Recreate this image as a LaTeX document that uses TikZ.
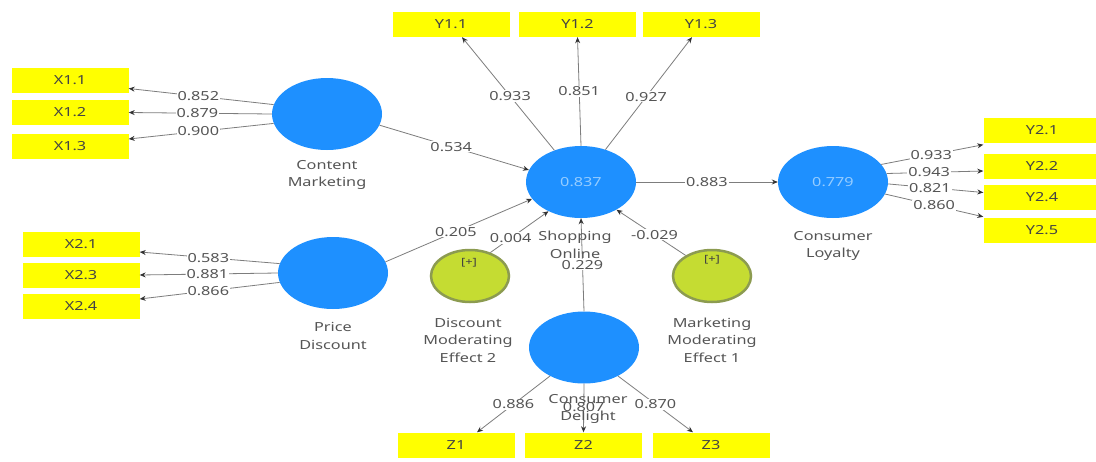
\documentclass[tikz,border=0pt]{standalone}
\usepackage{fontspec}
\setmainfont[FakeStretch=1.3]{Noto Sans}
\usetikzlibrary{shapes.geometric,arrows.meta,calc}
\definecolor{lvblue}{RGB}{30,144,255}
\definecolor{lvtext}{RGB}{150,205,255}
\definecolor{modgreen}{RGB}{197,220,50}
\definecolor{modborder}{RGB}{140,155,80}
\definecolor{txt}{RGB}{85,85,85}
\definecolor{ln}{RGB}{125,125,125}
\definecolor{yel}{RGB}{255,255,0}
\begin{document}
\begin{tikzpicture}[x=1pt,y=-1pt,
  font=\fontsize{12.5}{17.5}\selectfont, text=txt,
  lv/.style={ellipse, fill=lvblue, minimum width=110pt, minimum height=72pt, inner sep=0pt, text=lvtext},
  modv/.style={ellipse, fill=modgreen, draw=modborder, line width=2.5pt, minimum width=78pt, minimum height=52pt, inner sep=0pt},
  ind/.style={rectangle, fill=yel, minimum width=117pt, minimum height=25pt, inner sep=0pt, text=txt!80!black},
  lbl/.style={align=center, inner sep=0pt},
  conn/.style={draw=ln, line width=0.8pt, -{Stealth[length=6pt,width=5pt,color=black!80]}},
  val/.style={fill=white, inner sep=1pt},
]
\useasboundingbox (0,0) rectangle (1096,461);
\clip (0,0) rectangle (1096,461);
\fill[white] (0,0) rectangle (1096,461);

% latent variables
\node[lv] (cm) at (327,114) {};
\node[lv] (pd) at (333,273) {};
\node[lv] (so) at (581,182) {0.837};
\node[lv] (cl) at (833,182) {0.779};
\node[lv] (cd) at (584,347.5) {};
\node[modv] (dme) at (470,276) {};
\node[modv] (mme) at (712,276) {};

% indicators
\node[ind] (x11) at (70,80.5) {X1.1};
\node[ind] (x12) at (70,112.5) {X1.2};
\node[ind] (x13) at (70,146.5) {X1.3};
\node[ind] (x21) at (81,244) {X2.1};
\node[ind] (x23) at (81,275) {X2.3};
\node[ind] (x24) at (81,306.5) {X2.4};
\node[ind] (y11) at (451,24.5) {Y1.1};
\node[ind] (y12) at (577.5,24.5) {Y1.2};
\node[ind] (y13) at (701,24.5) {Y1.3};
\node[ind] (y21) at (1042,130.5) {Y2.1};
\node[ind] (y22) at (1042,166) {Y2.2};
\node[ind] (y24) at (1042,197.5) {Y2.4};
\node[ind] (y25) at (1042,230.5) {Y2.5};
\node[ind] (z1) at (456,445) {Z1};
\node[ind] (z2) at (583.5,445) {Z2};
\node[ind] (z3) at (711,445) {Z3};

% outer loadings
\draw[conn] (cm.170) -- node[val,pos=0.52] {0.852} ($(x11.east)+(0,8)$);
\draw[conn] (cm.180) -- node[val,pos=0.52] {0.879} (x12.east);
\draw[conn] (cm.190) -- node[val,pos=0.52] {0.900} ($(x13.east)+(0,-7.5)$);
\draw[conn] (pd.170) -- node[val,pos=0.51] {0.583} ($(x21.east)+(0,8)$);
\draw[conn] (pd.180) -- node[val,pos=0.51] {0.881} (x23.east);
\draw[conn] (pd.190) -- node[val,pos=0.51] {0.866} ($(x24.east)+(0,-7.5)$);
\draw[conn] (so.130) -- node[val,pos=0.48] {0.933} ($(y11.south)+(11,0)$);
\draw[conn] (so.90) -- node[val,pos=0.5] {0.851} (y12.south);
\draw[conn] (so.53) -- node[val,pos=0.47] {0.927} ($(y13.south)+(-9,0)$);
\draw[conn] (cl.20) -- node[val,pos=0.49] {0.933} ($(y21.south west)+(0,1.5)$);
\draw[conn] (cl.9) -- node[val,pos=0.44] {0.943} ($(y22.west)+(0,5)$);
\draw[conn] (cl.-2) -- node[val,pos=0.44] {0.821} ($(y24.west)+(0,-5)$);
\draw[conn] (cl.-13) -- node[val,pos=0.5] {0.860} ($(y25.north west)+(0,-1)$);
\draw[conn] (cd.220) -- node[val,pos=0.5] {0.886} ($(z1.north)+(21,0)$);
\draw[conn] (cd.south) -- node[val,pos=0.48] {0.807} (z2.north);
\draw[conn] (cd.-40) -- node[val,pos=0.5] {0.870} ($(z3.north)+(-18,0)$);

% structural paths
\draw[conn] (cm.-12) -- node[val,pos=0.48] {0.534} (so.167);
\draw[conn] (pd.12) -- node[val,pos=0.48] {0.205} (so.199);
\draw[conn] (dme.49) -- node[val,pos=0.35] {0.004} (so.222);
\draw[conn] (mme.142) -- node[val,pos=0.45] {-0.029} (so.-38);
\draw[conn] (cd.north) -- node[val,pos=0.5] {0.229} (so.south);
\draw[conn] (so.east) -- node[val,pos=0.5] {0.883} (cl.west);

% moderator markers
\node[font=\fontsize{10}{12}\selectfont, text=black!75] (dmeplus) at (469,263) {[+]};
\node[font=\fontsize{10}{12}\selectfont, text=black!75] (mmeplus) at (712,260) {[+]};

% names
\node[lbl] (cmname) at (327,175) {Content\\Marketing};
\node[lbl] (pdname) at (333,336) {Price\\Discount};
\node[lbl] (soname) at (575,245) {Shopping\\Online};
\node[lbl] (clname) at (833,246) {Consumer\\Loyalty};
\node[lbl] (cdname) at (588,409) {Consumer\\Delight};
\node[lbl] (dmename) at (468,340) {Discount\\Moderating\\Effect 2};
\node[lbl] (mmename) at (712,340) {Marketing\\Moderating\\Effect 1};
\end{tikzpicture}
\end{document}
